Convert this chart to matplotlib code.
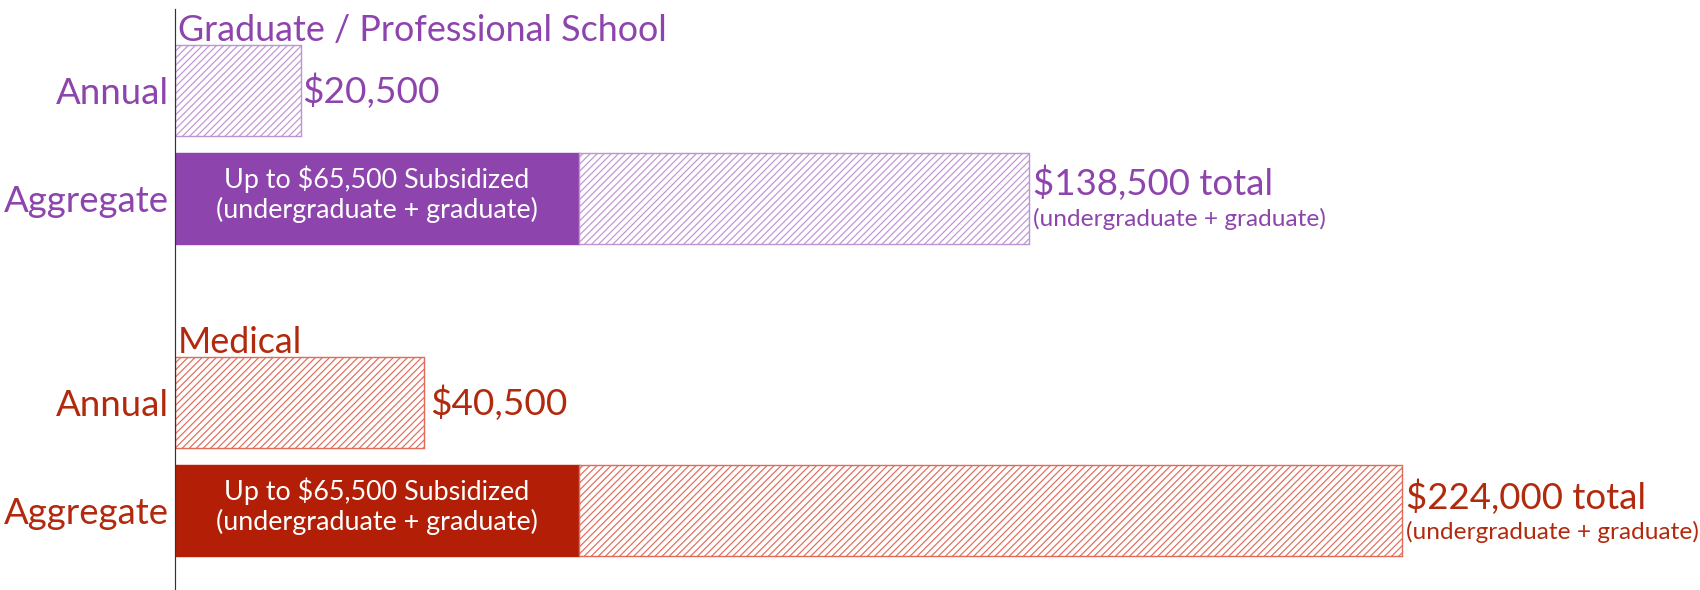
import matplotlib.pyplot as plt

# --- data -------------------------------------------------------------
groups = ["Graduate / Professional School", "Medical"]
row_labels = ["Annual", "Aggregate"]
annual_limit = [20500, 40500]
subsidized_limit = [65500, 65500]
# bar lengths as drawn in the reference (medical aggregate bar is drawn short)
aggregate_bar = [138500, 199000]
annual_text = ["$20,500", "$40,500"]
aggregate_text = ["$138,500 total", "$224,000 total"]
aggregate_note = "(undergraduate + graduate)"
inner_text = "Up to $65,500 Subsidized\n(undergraduate + graduate)"

# --- style ------------------------------------------------------------
DPI = 85
FIG_SIZE = (1700 / DPI, 590 / DPI)
SOLID = ["#8e44ad", "#b21f06"]
HATCH_EDGE = ["#bd94d4", "#e26a58"]
TEXT = ["#8e44ad", "#b22a0e"]
ROW_POS = [(0.0, 1.0), (2.9, 3.9)]
BAR_H = 0.845
ANNUAL_GAP = [1, 6]

plt.rcParams["font.family"] = ["Lato", "DejaVu Sans"]
plt.rcParams["hatch.linewidth"] = 1.0

fig = plt.figure(figsize=FIG_SIZE, dpi=DPI)
ax = fig.add_axes([174.5 / 1700, 0, 1 - 174.5 / 1700, 1 - 9 / 590])
ax.set_xlim(0, 247250)
ax.set_ylim(4.638, -0.76)

ticks, tick_labels, tick_colors = [], [], []

for i, group in enumerate(groups):
    y_ann, y_agg = ROW_POS[i]

    # annual (unsubsidized) bar
    ax.barh(y_ann, annual_limit[i], height=BAR_H, color="white",
            edgecolor=HATCH_EDGE[i], hatch="////", linewidth=1.2)
    # aggregate: solid subsidized part + hatched rest
    ax.barh(y_agg, subsidized_limit[i], height=BAR_H, color=SOLID[i],
            edgecolor=SOLID[i], linewidth=1.2)
    ax.barh(y_agg, aggregate_bar[i] - subsidized_limit[i], left=subsidized_limit[i],
            height=BAR_H, color="white", edgecolor=HATCH_EDGE[i], hatch="////",
            linewidth=1.2)

    # group heading above the annual bar
    ax.annotate(group, (0, y_ann - BAR_H / 2), xytext=(3, 4),
                textcoords="offset pixels", ha="left", va="baseline",
                fontsize=30.4, color=TEXT[i])

    # value labels
    ax.annotate(annual_text[i], (annual_limit[i], y_ann), xytext=(ANNUAL_GAP[i], 0),
                textcoords="offset pixels", ha="left", va="center",
                fontsize=31.3, color=TEXT[i])
    ax.annotate(aggregate_text[i], (aggregate_bar[i], y_agg), xytext=(4, 15 - 2 * i),
                textcoords="offset pixels", ha="left", va="center",
                fontsize=31, color=TEXT[i])
    ax.annotate(aggregate_note, (aggregate_bar[i], y_agg), xytext=(4, -21),
                textcoords="offset pixels", ha="left", va="center",
                fontsize=20.6, color=TEXT[i])

    # text inside the solid part
    ax.annotate(inner_text, (subsidized_limit[i] / 2, y_agg), xytext=(0, 4),
                textcoords="offset pixels", ha="center", va="center",
                fontsize=22.8, color="white", linespacing=1.2)

    ticks += [y_ann, y_agg]
    tick_labels += row_labels
    tick_colors += [TEXT[i], TEXT[i]]

ax.set_yticks(ticks, tick_labels, fontsize=31)
for lbl, c in zip(ax.get_yticklabels(), tick_colors):
    lbl.set_color(c)
ax.tick_params(axis="y", length=0, pad=5)
ax.set_xticks([])

for side in ["top", "right", "bottom"]:
    ax.spines[side].set_visible(False)
ax.spines["left"].set_color("#333333")
ax.spines["left"].set_linewidth(1.0)

fig.savefig("out.png", dpi=DPI)
